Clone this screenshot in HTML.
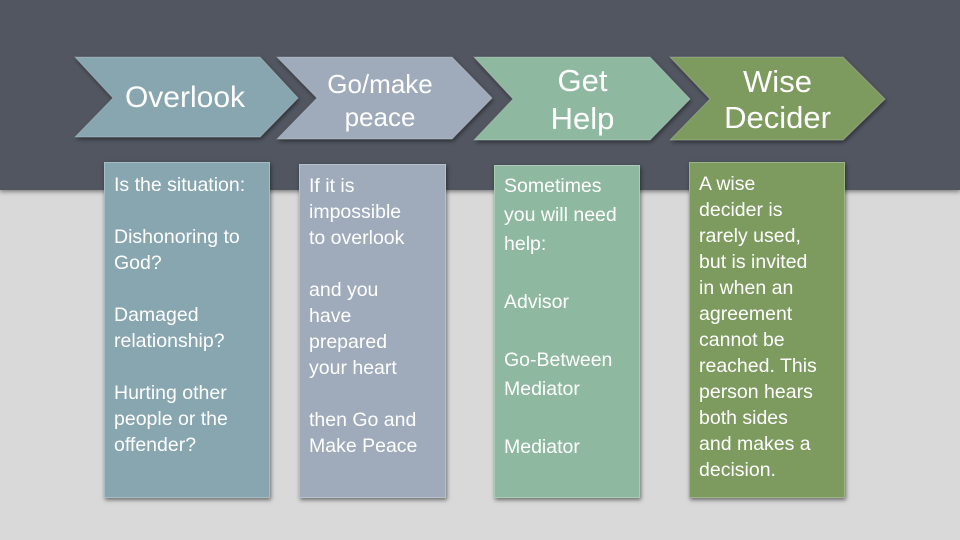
<!DOCTYPE html>
<html><head><style>
body{margin:0;width:960px;height:540px;overflow:hidden;background:#d9d9d9;font-family:"Liberation Sans",sans-serif;position:relative}
.band{position:absolute;left:0;top:0;width:960px;height:190px;background:#515660;box-shadow:0 2px 4px rgba(0,0,0,.4)}
svg{position:absolute;left:0;top:0}
.box{position:absolute;color:#fff;font-size:19.5px;line-height:26px;padding:7px 9px;box-sizing:border-box;box-shadow:1px 2px 4px rgba(0,0,0,.5);border:1px solid rgba(255,255,255,.25);white-space:nowrap}
.t{position:absolute;color:#fff;text-align:center;font-size:29px;line-height:33px}
</style></head><body>
<div class="band"></div>
<svg width="960" height="540">
<defs><filter id="s"><feDropShadow dx="1" dy="2" stdDeviation="2" flood-opacity="0.5"/></filter></defs>
<g filter="url(#s)" stroke="rgba(255,255,255,0.2)" stroke-width="1">
<polygon points="75,57 260,57 298,98 260,137 75,137 113,98" fill="#87a6b0"/>
<polygon points="277,57 452,57 492,98 452,139 277,139 317,98" fill="#9fabbb"/>
<polygon points="474,57 650,57 690,99 650,140 474,140 513,99" fill="#8fb8a0"/>
<polygon points="670,57 843,57 885,99 843,140 670,140 710,99" fill="#7e9b5f"/>
</g></svg>
<div class="t" style="left:110px;top:81px;width:150px;font-size:30px">Overlook</div>
<div class="t" style="left:310px;top:68px;width:140px;font-size:26px;line-height:33px">Go/make<br>peace</div>
<div class="t" style="left:510px;top:62px;width:145px;font-size:31px;line-height:38px">Get<br>Help</div>
<div class="t" style="left:705px;top:64px;width:145px;font-size:31px;line-height:36px">Wise<br>Decider</div>
<div class="box" style="left:104px;top:162px;width:166px;height:336px;background:#87a6b0;padding-top:9px">Is the situation:<br><br>Dishonoring to<br>God?<br><br>Damaged<br>relationship?<br><br>Hurting other<br>people or the<br>offender?</div>
<div class="box" style="left:299px;top:164px;width:147px;height:334px;background:#9fabbb;padding-top:8px">If it is<br>impossible<br>to overlook<br><br>and you<br>have<br>prepared<br>your heart<br><br>then Go and<br>Make Peace</div>
<div class="box" style="left:494px;top:165px;width:146px;height:333px;background:#8fb8a0;line-height:29px;padding-top:6px">Sometimes<br>you will need<br>help:<br><br>Advisor<br><br>Go-Between<br>Mediator<br><br>Mediator</div>
<div class="box" style="left:689px;top:162px;width:156px;height:336px;background:#7e9b5f;padding-top:8px">A wise<br>decider is<br>rarely used,<br>but is invited<br>in when an<br>agreement<br>cannot be<br>reached. This<br>person hears<br>both sides<br>and makes a<br>decision.</div>
</body></html>
